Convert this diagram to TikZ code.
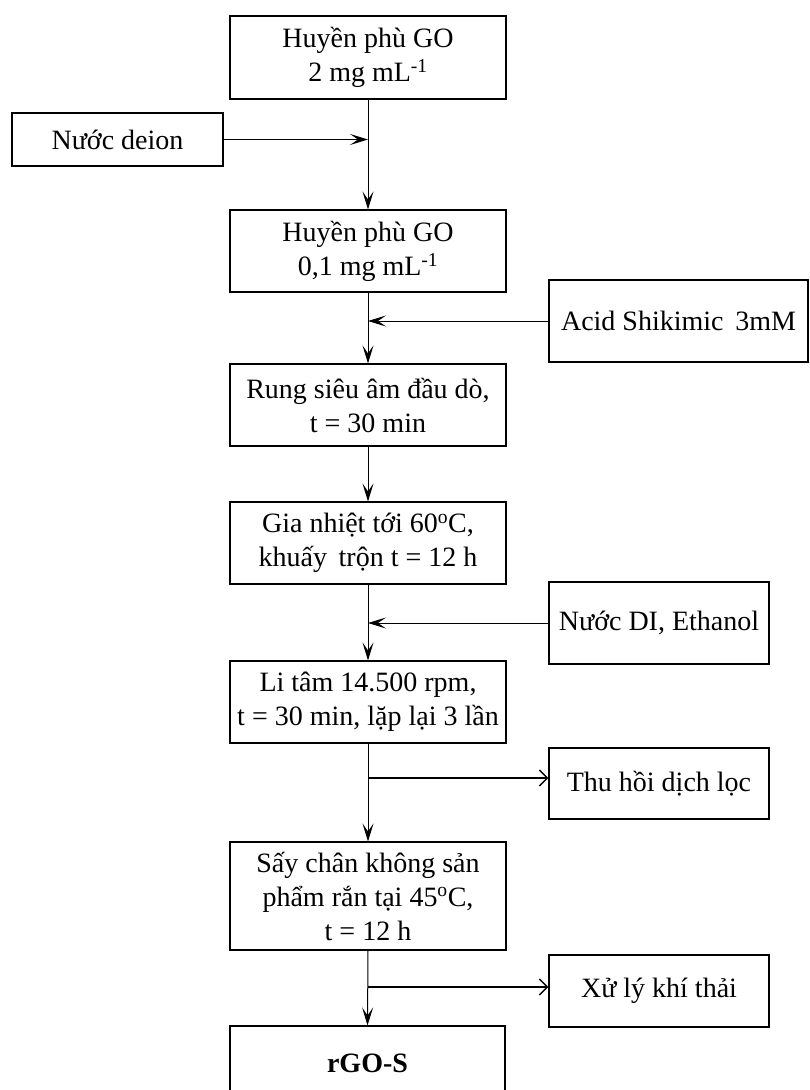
\documentclass[tikz,border=0pt]{standalone}
\usepackage{fontspec}
\setmainfont{Liberation Serif}
\usetikzlibrary{arrows.meta}
\begin{document}
\begin{tikzpicture}[x=1pt,y=-1pt,
  box/.style={draw, line width=1.1pt, align=center, inner sep=0pt,
    font={\fontsize{28}{34}\selectfont}},
  arr/.style={line width=1pt, -{Stealth[length=18pt,width=11pt,inset=8pt]}},
  outarr/.style={line width=1.5pt, -{Straight Barb[length=8pt,width=16pt,line width=1.5pt]}}]
\useasboundingbox (0,0) rectangle (810,1090);
\clip (0,0) rectangle (810,1090);
% main column
\node[box, minimum width=276pt, minimum height=83pt] (b1) at (368,57.5) {Huyền phù GO\\2 mg mL\textsuperscript{-1}};
\node[box, minimum width=276pt, minimum height=82pt] (b2) at (368,251) {Huyền phù GO\\0,1 mg mL\textsuperscript{-1}};
\node[box, minimum width=276pt, minimum height=82pt] (b3) at (368,405) {Rung siêu âm đầu dò,\\t = 30 min};
\node[box, minimum width=276pt, minimum height=82pt] (b4) at (368,543) {Gia nhiệt tới 60\textsuperscript{o}C,\\khuấy\, trộn t = 12 h};
\node[box, minimum width=276pt, minimum height=82pt] (b5) at (368,702) {Li tâm 14.500 rpm,\\t = 30 min, lặp lại 3 lần};
\node[box, minimum width=276pt, minimum height=108pt] (b6) at (368,896) {Sấy chân không sản\\phẩm rắn tại 45\textsuperscript{o}C,\\t = 12 h};
\node[box, minimum width=275pt, minimum height=74pt] (b7) at (367.5,1063) {\textbf{rGO-S}};
% side boxes
\node[box, minimum width=211pt, minimum height=53pt] (deion) at (117.5,139.5) {Nước deion};
\node[box, minimum width=259pt, minimum height=82pt] (acid) at (678.5,321) {Acid Shikimic\, 3mM};
\node[box, minimum width=220pt, minimum height=82pt] (di) at (659,623) {Nước DI, Ethanol};
\node[box, minimum width=220pt, minimum height=71pt] (thu) at (659,783.5) {Thu hồi dịch lọc};
\node[box, minimum width=220pt, minimum height=72pt] (xu) at (659,991) {Xử lý khí thải};
% main flow
\draw[arr] (b1) -- (b2);
\draw[arr] (b2) -- (b3);
\draw[arr] (b3) -- (b4);
\draw[arr] (b4) -- (b5);
\draw[arr] (b5) -- (b6);
\draw[arr] (b6.south) -- (b7.north);
% side inputs
\draw[arr] (deion.east) -- (deion.east -| b1.south);
\draw[arr] (acid.west) -- (acid.west -| b2.south);
\draw[arr] (di.west) -- (di.west -| b4.south);
% side outputs
\coordinate (j5) at (368,778);
\coordinate (j6) at (368,987);
\draw[outarr] (j5) -- (j5 -| thu.west);
\draw[outarr] (j6) -- (j6 -| xu.west);
\end{tikzpicture}
\end{document}
